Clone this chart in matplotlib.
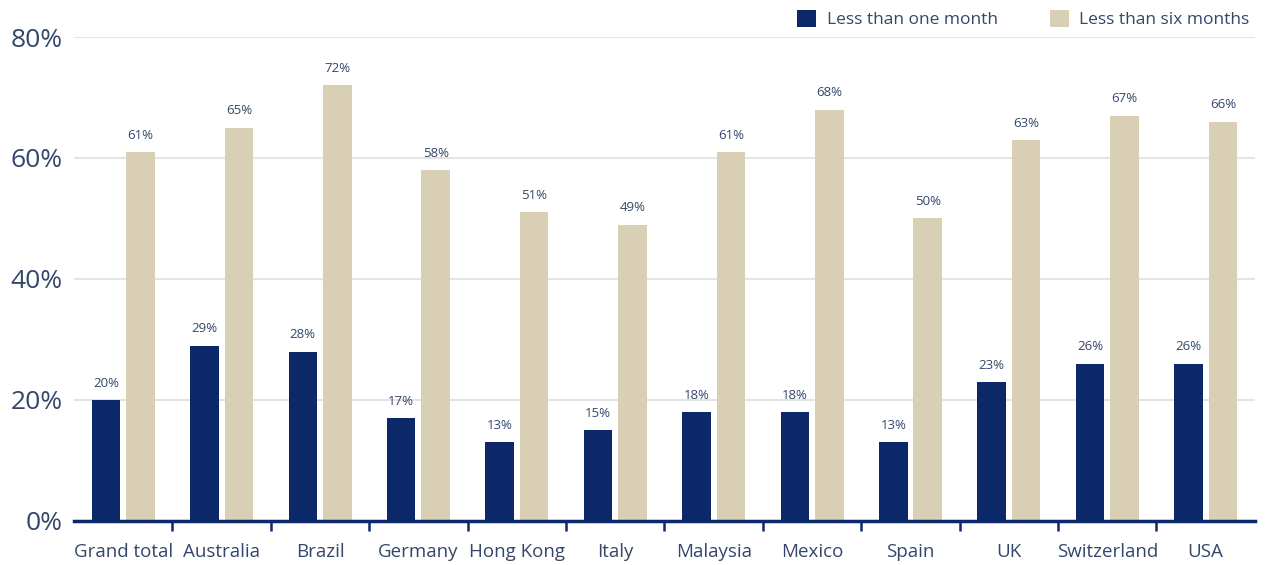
import numpy as np
import matplotlib
matplotlib.use("Agg")
import matplotlib.pyplot as plt
from matplotlib.ticker import MultipleLocator, FixedLocator

categories = ["Grand total", "Australia", "Brazil", "Germany", "Hong Kong", "Italy",
              "Malaysia", "Mexico", "Spain", "UK", "Switzerland", "USA"]
one_month = [20, 29, 28, 17, 13, 15, 18, 18, 13, 23, 26, 26]
six_months = [61, 65, 72, 58, 51, 49, 61, 68, 50, 63, 67, 66]

NAVY = "#0c2868"
TAN = "#d8cfb4"
TEXT = "#34476b"

plt.rcParams['font.family'] = ['Open Sans', 'DejaVu Sans']

fig = plt.figure(figsize=(12.65, 5.65), dpi=100)
ax = fig.add_axes([0.0585, 0.078, 0.9335, 0.8565])

x = np.arange(len(categories))
w = 0.29
b1 = ax.bar(x - 0.175, one_month, w, color=NAVY, label="Less than one month", zorder=3)
b2 = ax.bar(x + 0.175, six_months, w, color=TAN, label="Less than six months", zorder=3)

# value labels above each bar
for bars, vals in ((b1, one_month), (b2, six_months)):
    for r, v in zip(bars, vals):
        ax.text(r.get_x() + r.get_width() / 2, v + 1.7, f"{v}%", ha="center", va="bottom",
                fontsize=9.5, color=TEXT)

ax.set_xlim(-0.5, len(categories) - 0.5)
ax.set_ylim(0, 80)
ax.yaxis.set_major_locator(MultipleLocator(20))
ax.set_yticklabels([f"{int(t)}%" for t in ax.get_yticks()])
ax.grid(axis="y", color="#e4e4e4", linewidth=1.5, zorder=0)
for s in ["top", "right", "left"]:
    ax.spines[s].set_visible(False)
ax.spines["bottom"].set_color(NAVY)
ax.spines["bottom"].set_linewidth(2.5)
ax.spines["bottom"].set_zorder(4)

ax.tick_params(axis="y", length=0, labelsize=19, labelcolor=TEXT, pad=8)
ax.set_xticks(x)
ax.set_xticklabels(categories)
ax.tick_params(axis="x", length=0, labelsize=13.5, labelcolor=TEXT, pad=16)
# small separator ticks between the groups
ax.xaxis.set_minor_locator(FixedLocator(x[:-1] + 0.5))
ax.tick_params(axis="x", which="minor", length=7, width=1.8, color=NAVY, direction="out")

fig.legend(loc="upper right", bbox_to_anchor=(1.0, 1.01), ncol=2, frameon=False,
           fontsize=12.5, labelcolor=TEXT, handlelength=1.1, handleheight=1.1,
           columnspacing=3.0, handletextpad=0.6)

fig.savefig("out.png", dpi=100, facecolor="white")
